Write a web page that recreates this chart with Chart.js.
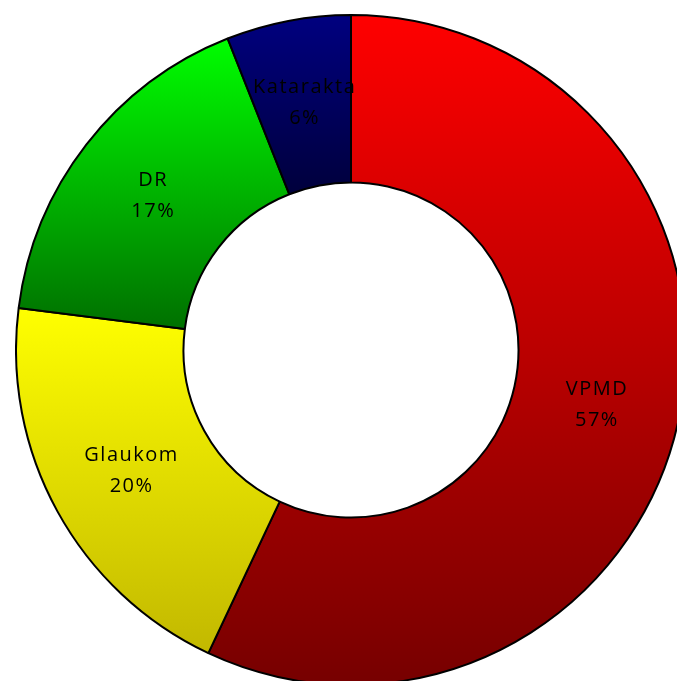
<!DOCTYPE html>
<html>
<head>
<meta charset="utf-8">
<script src="https://cdn.jsdelivr.net/npm/chart.js@4"></script>
<style>
html,body{margin:0;padding:0;background:#fff;overflow:hidden;width:677px;height:681px;}
#wrap{position:absolute;left:15px;top:14px;width:672px;height:672px;}
</style>
</head>
<body>
<div id="wrap"><canvas id="c" width="672" height="672"></canvas></div>
<script>
const categories = ["VPMD", "Glaukom", "DR", "Katarakta"];
const values = [57, 20, 17, 6];
const percentLabels = ["57%", "20%", "17%", "6%"];
const gradTop = ["#ff0000", "#ffff00", "#00ff00", "#000080"];
const gradBottom = ["#760000", "#c2b800", "#007000", "#00003c"];

function sliceYRange(cx, cy, rIn, rOut, a0, a1) {
  let ymin = Infinity, ymax = -Infinity;
  const n = 60;
  for (let i = 0; i <= n; i++) {
    const a = a0 + (a1 - a0) * i / n;
    for (const r of [rIn, rOut]) {
      const y = cy + r * Math.sin(a);
      ymin = Math.min(ymin, y); ymax = Math.max(ymax, y);
    }
  }
  return [ymin, ymax];
}

function bg(ctx) {
  const chart = ctx.chart;
  const area = chart.chartArea;
  const i = ctx.dataIndex;
  if (!area) return gradTop[i];
  const cx = (area.left + area.right) / 2;
  const cy = (area.top + area.bottom) / 2;
  const rOut = Math.min(area.width, area.height) / 2;
  const rIn = rOut * 0.5;
  const total = values.reduce((a, b) => a + b, 0);
  let start = -Math.PI / 2;
  for (let k = 0; k < i; k++) start += values[k] / total * 2 * Math.PI;
  const end = start + values[i] / total * 2 * Math.PI;
  const [y0, y1] = sliceYRange(cx, cy, rIn, rOut, start, end);
  const g = chart.ctx.createLinearGradient(0, y0, 0, y1);
  g.addColorStop(0, gradTop[i]);
  g.addColorStop(1, gradBottom[i]);
  return g;
}

const labelPlugin = {
  id: 'sliceLabels',
  afterDatasetsDraw(chart) {
    const meta = chart.getDatasetMeta(0);
    const c = chart.ctx;
    c.save();
    c.fillStyle = '#000';
    c.font = '20px "Open Sans", "Noto Sans", sans-serif';
    try { c.letterSpacing = '1.5px'; } catch (e) {}
    c.textAlign = 'center';
    c.textBaseline = 'middle';
    meta.data.forEach((arc, i) => {
      const p = arc.tooltipPosition();
      const x = p.x + 0.75;
      const y = p.y;
      c.fillText(categories[i], x, y - 15.5);
      c.fillText(percentLabels[i], x, y + 15.5);
    });
    c.restore();
  }
};

new Chart(document.getElementById('c'), {
  type: 'doughnut',
  data: {
    labels: categories,
    datasets: [{
      data: values,
      backgroundColor: bg,
      borderColor: '#000',
      borderWidth: 2
    }]
  },
  options: {
    responsive: false,
    animation: false,
    cutout: '50%',
    layout: { padding: 0 },
    plugins: { legend: { display: false }, tooltip: { enabled: false } }
  },
  plugins: [labelPlugin]
});
</script>
</body>
</html>
